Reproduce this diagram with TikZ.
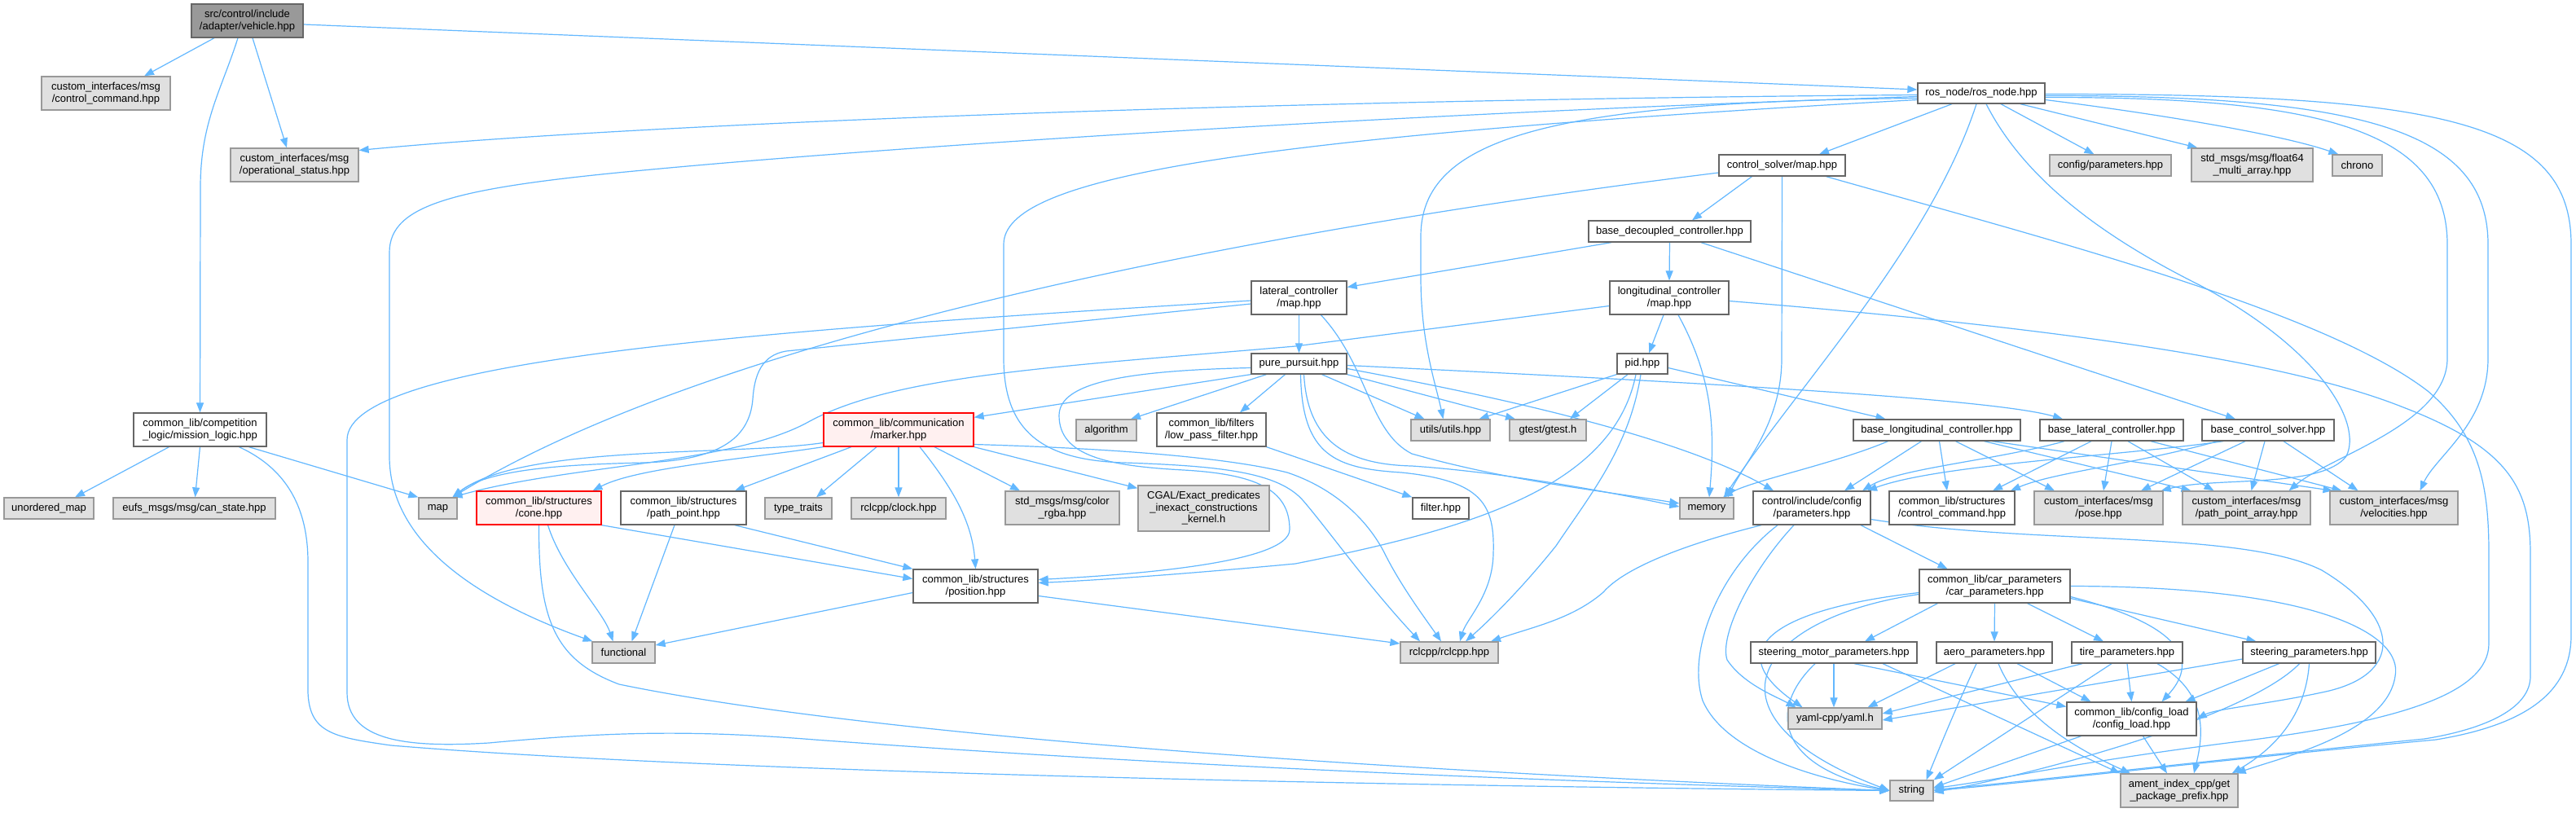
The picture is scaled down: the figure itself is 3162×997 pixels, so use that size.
\documentclass[tikz,border=0pt]{standalone}
\usepackage{fontspec}
\setmainfont{Liberation Sans}
\usetikzlibrary{arrows.meta,backgrounds}
\definecolor{edgec}{HTML}{63B8FF}
\definecolor{gfill}{HTML}{E0E0E0}
\definecolor{gdraw}{HTML}{999999}
\definecolor{wdraw}{HTML}{666666}
\definecolor{rfill}{HTML}{FFF0F0}
\definecolor{rdraw}{HTML}{FF0000}
\begin{document}
\begin{tikzpicture}[x=1pt,y=-1pt,
  box/.style={font=\fontsize{13pt}{14.5pt}\selectfont, align=center, inner sep=0pt, line width=1.3pt},
  wbox/.style={box, draw=wdraw, fill=white},
  gbox/.style={box, draw=gdraw, fill=gfill},
  rbox/.style={box, draw=rdraw, fill=rfill},
  mbox/.style={box, draw=wdraw, fill=gdraw},
  sz/.style 2 args={minimum width=#1pt, minimum height=#2pt},
  e/.style={draw=edgec, line width=1.2pt, -{Triangle[length=12pt,width=9pt]}},
]
\useasboundingbox (0,0) rectangle (3162,997);
% ---------- nodes ----------
\node[mbox, sz={137}{41}] (veh) at (303.5,25.5) {src/control/include\\/adapter/vehicle.hpp};
\node[gbox, sz={158}{41}] (ccmd) at (130,114.5) {custom\_interfaces/msg\\/control\_command.hpp};
\node[gbox, sz={157}{41}] (opst) at (361.5,202.5) {custom\_interfaces/msg\\/operational\_status.hpp};
\node[wbox, sz={156}{25}] (ros) at (2432,114.5) {ros\_node/ros\_node.hpp};
\node[wbox, sz={155}{26}] (csmap) at (2187.5,203) {control\_solver/map.hpp};
\node[gbox, sz={149}{26}] (cfgp) at (2590.5,203) {config/parameters.hpp};
\node[gbox, sz={149}{41}] (f64) at (2764.5,202.5) {std\_msgs/msg/float64\\\_multi\_array.hpp};
\node[gbox, sz={61}{26}] (chrono) at (2893.5,203) {chrono};
\node[wbox, sz={199}{26}] (bdec) at (2049.5,284) {base\_decoupled\_controller.hpp};
\node[wbox, sz={117}{41}] (latmap) at (1594.5,365.5) {lateral\_controller\\/map.hpp};
\node[wbox, sz={146}{41}] (lonmap) at (2049,365.5) {longitudinal\_controller\\/map.hpp};
\node[wbox, sz={117}{25}] (pp) at (1594.5,446.5) {pure\_pursuit.hpp};
\node[wbox, sz={62}{25}] (pid) at (2016,446.5) {pid.hpp};
\node[wbox, sz={163}{41}] (mission) at (245.5,527.5) {common\_lib/competition\\\_logic/mission\_logic.hpp};
\node[gbox, sz={110}{26}] (umap) at (60,624) {unordered\_map};
\node[gbox, sz={199}{26}] (canst) at (238.5,624) {eufs\_msgs/msg/can\_state.hpp};
\node[gbox, sz={47}{26}] (map) at (537.5,624) {map};
\node[rbox, sz={153}{41}] (cone) at (661.5,623.5) {common\_lib/structures\\/cone.hpp};
\node[rbox, sz={184}{41}] (marker) at (1103,527.5) {common\_lib/communication\\/marker.hpp};
\node[gbox, sz={74}{26}] (alg) at (1358,528) {algorithm};
\node[wbox, sz={134}{41}] (lpf) at (1487,527.5) {common\_lib/filters\\/low\_pass\_filter.hpp};
\node[wbox, sz={154}{41}] (ppt) at (839,623.5) {common\_lib/structures\\/path\_point.hpp};
\node[gbox, sz={82}{26}] (ttr) at (980,624) {type\_traits};
\node[gbox, sz={116}{26}] (clock) at (1103,624) {rclcpp/clock.hpp};
\node[gbox, sz={140}{41}] (rgba) at (1304,623.5) {std\_msgs/msg/color\\\_rgba.hpp};
\node[gbox, sz={161}{56}] (cgal) at (1477.5,624) {CGAL/Exact\_predicates\\\_inexact\_constructions\\\_kernel.h};
\node[gbox, sz={97}{26}] (utils) at (1780.5,528) {utils/utils.hpp};
\node[gbox, sz={94}{26}] (gtest) at (1900,528) {gtest/gtest.h};
\node[wbox, sz={205}{26}] (blon) at (2377.5,528) {base\_longitudinal\_controller.hpp};
\node[wbox, sz={176}{26}] (blat) at (2592,528) {base\_lateral\_controller.hpp};
\node[wbox, sz={162}{26}] (bcs) at (2784,528) {base\_control\_solver.hpp};
\node[wbox, sz={69}{26}] (filt) at (1768.5,624) {filter.hpp};
\node[gbox, sz={66}{26}] (mem) at (2095,624) {memory};
\node[wbox, sz={144}{41}] (cip) at (2224,623.5) {control/include/config\\/parameters.hpp};
\node[wbox, sz={154}{41}] (sccmd) at (2396,623.5) {common\_lib/structures\\/control\_command.hpp};
\node[gbox, sz={158}{41}] (pose) at (2576,623.5) {custom\_interfaces/msg\\/pose.hpp};
\node[gbox, sz={157}{41}] (ppa) at (2757.5,623.5) {custom\_interfaces/msg\\/path\_point\_array.hpp};
\node[gbox, sz={157}{41}] (vel) at (2938.5,623.5) {custom\_interfaces/msg\\/velocities.hpp};
\node[gbox, sz={77}{26}] (func) at (765.5,801) {functional};
\node[wbox, sz={153}{41}] (pos) at (1197.5,719.5) {common\_lib/structures\\/position.hpp};
\node[gbox, sz={120}{26}] (rclcpp) at (1779,801) {rclcpp/rclcpp.hpp};
\node[wbox, sz={204}{26}] (smp) at (2251,801) {steering\_motor\_parameters.hpp};
\node[gbox, sz={115}{26}] (yaml) at (2252.5,882) {yaml-cpp/yaml.h};
\node[gbox, sz={53}{25}] (str) at (2346.5,970.5) {string};
\node[wbox, sz={185}{41}] (carp) at (2448.5,719.5) {common\_lib/car\_parameters\\/car\_parameters.hpp};
\node[wbox, sz={142}{26}] (aero) at (2448,801) {aero\_parameters.hpp};
\node[wbox, sz={136}{26}] (tire) at (2611,801) {tire\_parameters.hpp};
\node[wbox, sz={163}{26}] (stp) at (2834.5,801) {steering\_parameters.hpp};
\node[wbox, sz={159}{41}] (cload) at (2616.5,882.5) {common\_lib/config\_load\\/config\_load.hpp};
\node[gbox, sz={144}{41}] (ament) at (2675,970.5) {ament\_index\_cpp/get\\\_package\_prefix.hpp};
% ---------- edges ----------
\begin{scope}[on background layer]
\fill[white] (0,0) rectangle (3162,997);
% vehicle
\draw[e] ([xshift=-40.5pt]veh.south) -- ([xshift=47pt]ccmd.north);
\draw[e] ([xshift=6.5pt]veh.south) -- ([xshift=-9.5pt]opst.north);
\draw[e] ([xshift=-11.5pt]veh.south) .. controls (272,110) and (246,150) .. (246,230) -- (mission);
\draw[e] ([yshift=-4.5pt]veh.east) -- ([yshift=4.5pt]ros.west);
% ros
\draw[e] ([yshift=-2pt]ros.west) .. controls (1600,122) and (800,150) .. ([yshift=18pt]opst.east);
\draw[e] ([yshift=-4pt]ros.west) .. controls (1700,140) and (1100,180) .. (800,208) .. controls (560,230) and (478,250) .. (478,310) -- (478,560) .. controls (478,640) and (540,720) .. (func);
\draw[e] ([yshift=-6pt]ros.west) .. controls (1900,125) and (1744,170) .. (1744,290) -- (1744,340) .. controls (1744,420) and (1762,470) .. ([xshift=-9pt]utils.north);
\draw[e] ([yshift=-8pt]ros.west) .. controls (1500,170) and (1232,220) .. (1232,300) -- (1232,440) .. controls (1232,530) and (1280,565) .. (1380,568) .. controls (1500,572) and (1570,580) .. (1600,615) .. controls (1630,650) and (1680,720) .. ([xshift=-36pt]rclcpp.north);
\draw[e] ([xshift=-36pt]ros.south) -- ([xshift=45.5pt]csmap.north);
\draw[e] ([xshift=24pt]ros.south) -- ([xshift=-20pt]cfgp.north);
\draw[e] ([xshift=48pt]ros.south) -- ([xshift=8pt]f64.north west);
\draw[e] ([yshift=-8pt]ros.east) .. controls (2650,140) and (2800,165) .. ([xshift=8pt]chrono.north west);
\draw[e] ([xshift=-6pt]ros.south) .. controls (2370,300) and (2210,470) .. ([xshift=21pt]mem.north);
\draw[e] ([xshift=6pt]ros.south) .. controls (2490,230) and (2600,300) .. (2700,350) .. controls (2850,430) and (2900,520) .. (2880,560) .. controls (2850,600) and (2720,585) .. ([xshift=-3pt]pose.north east);
\draw[e] ([yshift=-5pt]ros.east) .. controls (2850,119) and (3004,160) .. (3004,300) -- (3004,440) .. controls (3004,520) and (2860,560) .. ([xshift=52pt]ppa.north);
\draw[e] ([yshift=-3pt]ros.east) .. controls (2900,117) and (3054,160) .. (3054,300) -- (3054,440) .. controls (3054,520) and (2990,560) .. ([xshift=32pt]vel.north);
\draw[e] ([yshift=-1pt]ros.east) .. controls (3000,115) and (3156,150) .. (3156,300) -- (3156,780) .. controls (3156,850) and (3100,890) .. (2990,908) .. controls (2700,935) and (2500,960) .. (str.east);
% csmap
\draw[e] ([xshift=-37pt]csmap.south) -- ([xshift=27.5pt]bdec.north);
\draw[e] ([yshift=-9pt]csmap.west) .. controls (1600,275) and (900,400) .. ([xshift=18pt]map.north);
\draw[e] (csmap.south) -- (2187,440) .. controls (2187,520) and (2140,570) .. ([xshift=26pt]mem.north);
\draw[e] ([xshift=54pt]csmap.south) .. controls (2500,290) and (2850,380) .. (2980,480) .. controls (3045,535) and (3055,600) .. (3055,680) -- (3055,790) .. controls (3055,850) and (2950,885) .. (2750,910) .. controls (2550,935) and (2450,958) .. ([yshift=3pt]str.east);
% bdec
\draw[e] ([xshift=-71.5pt]bdec.south) -- ([yshift=13pt]latmap.east);
\draw[e] (bdec.south) -- (lonmap.north);
\draw[e] ([xshift=38.5pt]bdec.south) -- ([xshift=-40pt]bcs.north);
% latmap
\draw[e] (latmap.south) -- (pp.north);
\draw[e] ([yshift=-7.5pt]latmap.west) -- (965,431) .. controls (935,436) and (926,460) .. (924,490) .. controls (920,540) and (880,565) .. (790,568) .. controls (700,570) and (600,575) .. ([xshift=18pt]map.north);
\draw[e] ([yshift=-3.5pt]latmap.west) .. controls (950,405) and (426,440) .. (426,540) -- (426,850) .. controls (426,910) and (500,918) .. (600,912) .. controls (750,898) and (850,896) .. (1000,908) .. controls (1500,945) and (2000,962) .. (str.west);
\draw[e] ([xshift=27pt]latmap.south) .. controls (1680,450) and (1680,530) .. (1733,557) .. controls (1850,590) and (1950,600) .. ([yshift=6pt]mem.west);
% lonmap
\draw[e] ([xshift=-7pt]lonmap.south) -- ([xshift=8pt]pid.north);
\draw[e] ([xshift=11pt]lonmap.south) .. controls (2100,460) and (2106,520) .. ([xshift=3pt]mem.north);
\draw[e] ([yshift=-10pt]lonmap.west) -- (1590,425) .. controls (1300,450) and (1100,460) .. (994,517) .. controls (900,570) and (700,570) .. ([xshift=18pt]map.north);
\draw[e] ([yshift=-4pt]lonmap.east) .. controls (2500,400) and (2800,440) .. (2950,500) .. controls (3080,550) and (3106,600) .. (3106,680) -- (3106,830) .. controls (3106,870) and (3050,895) .. (2976,907) .. controls (2700,935) and (2500,958) .. ([yshift=1pt]str.east);
% pid
\draw[e] (pid.south west) -- ([xshift=35pt]utils.north);
\draw[e] ([xshift=-18pt]pid.south) -- ([xshift=27pt]gtest.north);
\draw[e] ([yshift=-5pt]pid.east) -- ([xshift=-63pt]blon.north);
\draw[e] ([xshift=-2pt]pid.south) .. controls (2000,550) and (1950,610) .. (1910,670) .. controls (1870,720) and (1830,760) .. ([xshift=20pt]rclcpp.north);
\draw[e] ([xshift=-8pt]pid.south) .. controls (1980,600) and (1800,650) .. (1590,692) .. controls (1450,705) and (1350,712) .. ([yshift=4pt]pos.east);
% pure pursuit
\draw[e] (pp.south west) -- ([yshift=-6pt]marker.north east);
\draw[e] ([xshift=-40pt]pp.south) -- ([xshift=30pt]alg.north);
\draw[e] ([xshift=-17pt]pp.south) -- ([xshift=35pt]lpf.north);
\draw[e] ([xshift=28pt]pp.south) -- ([xshift=-32pt]utils.north);
\draw[e] (pp.south east) -- ([xshift=-40pt]gtest.north);
\draw[e] ([yshift=-6pt]pp.east) .. controls (1800,480) and (2050,530) .. ([xshift=-47pt]cip.north);
\draw[e] ([yshift=-2pt]pp.east) .. controls (2100,470) and (2450,490) .. ([xshift=-60pt]blat.north);
\draw[e] ([xshift=6pt]pp.south) .. controls (1605,540) and (1650,570) .. (1733,572) .. controls (1850,580) and (1980,605) .. ([yshift=2pt]mem.west);
\draw[e] ([xshift=2pt]pp.south) .. controls (1598,560) and (1640,575) .. (1720,580) .. controls (1820,590) and (1835,620) .. (1833,680) .. controls (1832,730) and (1800,760) .. ([xshift=13pt]rclcpp.north);
\draw[e] ([yshift=-5pt]pp.west) .. controls (1380,455) and (1300,470) .. (1300,510) .. controls (1300,560) and (1360,572) .. (1453,577) .. controls (1540,582) and (1583,600) .. (1583,650) .. controls (1583,690) and (1400,705) .. ([yshift=8pt]pos.east);
% marker
\draw[e] ([yshift=-16pt]marker.west) .. controls (900,560) and (640,545) .. ([xshift=18pt]map.north);
\draw[e] (marker.south west) .. controls (900,565) and (780,575) .. ([xshift=66pt]cone.north);
\draw[e] ([xshift=-58pt]marker.south) -- ([xshift=63pt]ppt.north);
\draw[e] ([xshift=-27pt]marker.south) -- ([xshift=22pt]ttr.north);
\draw[e] (marker.south) -- (clock.north);
\draw[e] ([xshift=44pt]marker.south) -- ([xshift=-52pt]rgba.north);
\draw[e] (marker.south east) -- ([yshift=-4pt]cgal.north west);
\draw[e] ([xshift=26pt]marker.south) .. controls (1170,600) and (1193,640) .. (pos.north);
\draw[e] ([yshift=-18pt]marker.east) .. controls (1350,550) and (1500,560) .. (1580,580) .. controls (1640,600) and (1680,640) .. (1700,680) .. controls (1720,720) and (1750,760) .. ([xshift=-10pt]rclcpp.north);
% mission
\draw[e] ([xshift=-38pt]mission.south) -- ([xshift=32pt]umap.north);
\draw[e] (mission.south) -- ([xshift=1pt]canst.north);
\draw[e] ([xshift=60pt]mission.south) -- (map.north west);
\draw[e] ([xshift=48pt]mission.south) .. controls (340,570) and (378,610) .. (378,690) -- (378,850) .. controls (380,900) and (410,905) .. (480,915) .. controls (900,950) and (1800,966) .. (str.west);
% cone
\draw[e] ([xshift=11pt]cone.south) .. controls (690,700) and (740,750) .. ([xshift=-13pt]func.north);
\draw[e] (cone.south east) -- ([yshift=9pt]pos.west);
\draw[e] (cone.south) .. controls (661,760) and (680,810) .. (760,840) .. controls (1100,910) and (1800,950) .. (str.west);
% path point
\draw[e] ([xshift=-11pt]ppt.south) -- ([xshift=10pt]func.north);
\draw[e] ([xshift=63pt]ppt.south) -- (pos.north west);
% low pass filter
\draw[e] (lpf.south east) -- (filt.north west);
% position
\draw[e] ([yshift=-8pt]pos.west) -- ([yshift=9pt]func.east);
\draw[e] ([yshift=-12pt]pos.east) -- ([yshift=11pt]rclcpp.west);
% base longitudinal
\draw[e] ([xshift=-60pt]blon.south) .. controls (2250,570) and (2150,590) .. ([xshift=20pt]mem.north);
\draw[e] ([xshift=-19pt]blon.south) -- ([xshift=40pt]cip.north);
\draw[e] ([xshift=3pt]blon.south) -- ([xshift=-6pt]sccmd.north);
\draw[e] ([xshift=23pt]blon.south) -- ([xshift=-54pt]pose.north);
\draw[e] ([xshift=58pt]blon.south) -- ([xshift=-68pt]ppa.north);
\draw[e] ([xshift=68pt]blon.south) -- ([xshift=-75pt]vel.north);
% base lateral
\draw[e] ([xshift=-58pt]blat.south) .. controls (2450,565) and (2330,575) .. ([xshift=62pt]cip.north);
\draw[e] ([xshift=-25pt]blat.south) -- ([xshift=50pt]sccmd.north);
\draw[e] (blat.south) -- ([xshift=6pt]pose.north);
\draw[e] ([xshift=20pt]blat.south) -- ([xshift=-40pt]ppa.north);
\draw[e] ([xshift=48pt]blat.south) -- ([xshift=-64pt]vel.north);
% base control solver
\draw[e] ([xshift=-55pt]bcs.south) .. controls (2600,560) and (2380,570) .. ([xshift=68pt]cip.north);
\draw[e] ([xshift=-62pt]bcs.south) .. controls (2620,570) and (2520,580) .. ([xshift=72pt]sccmd.north);
\draw[e] ([xshift=-28pt]bcs.south) -- ([xshift=52pt]pose.north);
\draw[e] ([xshift=-4pt]bcs.south) -- ([xshift=6pt]ppa.north);
\draw[e] ([xshift=19pt]bcs.south) -- ([xshift=-44pt]vel.north);
% control/include/config/parameters
\draw[e] ([xshift=-62pt]cip.south) .. controls (2100,660) and (2000,690) .. (1968,727) .. controls (1930,760) and (1880,770) .. ([xshift=51pt]rclcpp.north);
\draw[e] ([xshift=60pt]cip.south) -- ([xshift=-58pt]carp.north);
\draw[e] ([xshift=-42pt]cip.south) .. controls (2110,700) and (2070,800) .. (2090,860) .. controls (2120,930) and (2250,960) .. (str.west);
\draw[e] ([xshift=-22pt]cip.south) .. controls (2150,700) and (2110,780) .. (2120,810) .. controls (2140,840) and (2180,855) .. ([xshift=-48pt]yaml.north);
\draw[e] ([yshift=-14pt]cip.east) .. controls (2500,670) and (2750,650) .. (2850,700) .. controls (2950,760) and (2950,830) .. (2850,850) .. controls (2780,865) and (2720,870) .. (cload.east);
% car parameters
\draw[e] ([xshift=-70pt]carp.south) -- ([xshift=38pt]smp.north);
\draw[e] (carp.south) -- (aero.north);
\draw[e] ([xshift=40pt]carp.south) -- ([xshift=-29pt]tire.north);
\draw[e] ([yshift=-15pt]carp.east) -- ([xshift=-65pt]stp.north);
\draw[e] ([yshift=-13pt]carp.east) .. controls (2650,760) and (2710,800) .. ([xshift=37pt]cload.north);
\draw[e] (carp.east) .. controls (2850,720) and (2950,780) .. (2940,830) .. controls (2930,900) and (2800,930) .. ([xshift=-3pt]ament.north east);
\draw[e] ([yshift=-8pt]carp.west) .. controls (2200,745) and (2100,790) .. ([xshift=-40pt]yaml.north);
\draw[e] ([yshift=-10pt]carp.west) .. controls (2150,760) and (2080,880) .. (str.west);
% steering motor parameters
\draw[e] (smp.south) -- ([xshift=-1.5pt]yaml.north);
\draw[e] ([xshift=-23pt]smp.south) .. controls (2170,870) and (2180,940) .. (str.west);
\draw[e] ([xshift=25pt]smp.south) -- ([yshift=15pt]cload.west);
\draw[e] ([xshift=60pt]smp.south) -- (ament.north west);
% aero
\draw[e] ([xshift=-48pt]aero.south) -- ([xshift=40pt]yaml.north);
\draw[e] ([xshift=-22pt]aero.south) .. controls (2400,870) and (2380,920) .. ([xshift=18pt]str.north);
\draw[e] ([xshift=28pt]aero.south) -- ([xshift=-50pt]cload.north);
\draw[e] ([xshift=5pt]aero.south) .. controls (2480,880) and (2550,920) .. ([xshift=-60pt]ament.north);
% tire
\draw[e] ([xshift=-55pt]tire.south) -- ([yshift=6pt]yaml.east);
\draw[e] ([xshift=-19pt]tire.south) -- (str.north east);
\draw[e] (tire.south) -- (cload.north);
\draw[e] ([xshift=37pt]tire.south) .. controls (2710,850) and (2705,900) .. ([xshift=18pt]ament.north);
% steering parameters
\draw[e] ([yshift=-8pt]stp.west) -- ([yshift=-2pt]yaml.east);
\draw[e] ([xshift=-12pt]stp.south) .. controls (2760,880) and (2500,950) .. ([yshift=-2pt]str.east);
\draw[e] ([xshift=-37pt]stp.south) -- ([xshift=66pt]cload.north);
\draw[e] (stp.south) .. controls (2830,880) and (2790,920) .. ([xshift=-8pt]ament.north east);
% config load
\draw[e] ([xshift=-62pt]cload.south) -- ([yshift=4pt]str.east);
\draw[e] ([xshift=14pt]cload.south) -- ([xshift=-15pt]ament.north);
\end{scope}
\end{tikzpicture}
\end{document}
